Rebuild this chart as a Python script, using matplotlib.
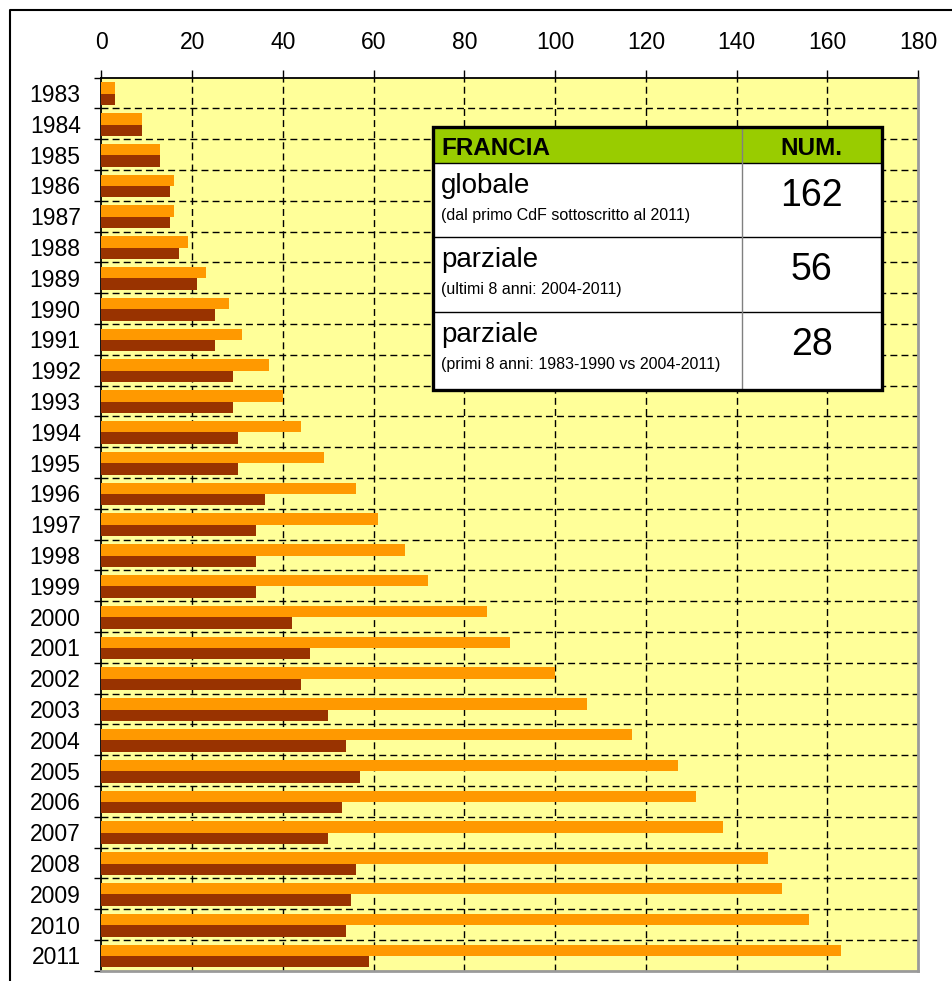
import numpy as np
import matplotlib.pyplot as plt
from matplotlib.patches import Rectangle
from matplotlib.lines import Line2D

plt.rcParams['font.family'] = ['Liberation Sans', 'DejaVu Sans']

# data
years = list(range(1983, 2012))
orange_vals = [3, 9, 13, 16, 16, 19, 23, 28, 31, 37, 40, 44, 49, 56, 61, 67, 72,
               85, 90, 100, 107, 117, 127, 131, 137, 147, 150, 156, 163]
brown_vals = [3, 9, 13, 15, 15, 17, 21, 25, 25, 29, 29, 30, 30, 36, 34, 34, 34,
              42, 46, 44, 50, 54, 57, 53, 50, 56, 55, 54, 59]
x_ticks = [0, 20, 40, 60, 80, 100, 120, 140, 160, 180]

# inset table
table_header = ['FRANCIA', 'NUM.']
table_labels = ['globale', 'parziale', 'parziale']
table_notes = ['(dal primo CdF sottoscritto al 2011)',
               '(ultimi 8 anni: 2004-2011)',
               '(primi 8 anni: 1983-1990 vs 2004-2011)']
table_nums = ['162', '56', '28']

W, H = 953, 981
fig = plt.figure(figsize=(W / 100, H / 100), dpi=100)
fig.patch.set_facecolor('white')

ax = fig.add_axes([101.5 / W, 1 - 970.7 / H, (918 - 101.5) / W, (970.7 - 77.7) / H])
ax.set_facecolor('#FFFF99')

ypos = np.arange(len(years))
ax.barh(ypos - 0.165, orange_vals, height=0.37, color='#FF9900', zorder=3)
ax.barh(ypos + 0.205, brown_vals, height=0.37, color='#993300', zorder=3)

ax.set_xlim(0, 180)
ax.set_ylim(len(years) - 0.5, -0.5)
ax.xaxis.tick_top()
ax.set_xticks(x_ticks)
ax.tick_params(axis='x', which='major', direction='out', length=6, width=1,
               pad=11, labelsize=16.5, colors='black')
ax.set_yticks(ypos)
ax.set_yticklabels([str(y) for y in years])
ax.set_yticks(np.arange(len(years) + 1) - 0.5, minor=True)
ax.tick_params(axis='y', which='major', length=0, pad=15, labelsize=16.5)
ax.tick_params(axis='y', which='minor', direction='out', length=5, width=1)

# dashed grid
for xv in x_ticks[1:-1]:
    ax.axvline(xv, color='black', lw=1, ls=(0, (5, 3)), zorder=1)
for yb in np.arange(1, len(years)) - 0.5:
    ax.axhline(yb, color='black', lw=1, ls=(0, (5, 3)), zorder=1)

for s in ['top', 'left']:
    ax.spines[s].set_color('black')
    ax.spines[s].set_linewidth(1.3)
for s in ['bottom', 'right']:
    ax.spines[s].set_color('#9a9a9a')
    ax.spines[s].set_linewidth(2)

# overlay in pixel coordinates for frame and table
ov = fig.add_axes([0, 0, 1, 1], zorder=10)
ov.set_xlim(0, W)
ov.set_ylim(H, 0)
ov.axis('off')
ov.patch.set_alpha(0)

ov.add_line(Line2D([10, 10, W + 5], [H + 5, 10, 10], color='black', lw=1.5))

tx0, tx1, tcol = 432.7, 881.7, 741.7
row_edges = [126.7, 163.3, 237.3, 312.3, 390]
ov.add_patch(Rectangle((tx0, row_edges[0]), tx1 - tx0, row_edges[-1] - row_edges[0],
                       facecolor='white', edgecolor='none', zorder=1))
ov.add_patch(Rectangle((tx0, row_edges[0]), tx1 - tx0, row_edges[1] - row_edges[0],
                       facecolor='#99CC00', edgecolor='none', zorder=2))
for yr in row_edges[1:-1]:
    ov.add_line(Line2D([tx0, tx1], [yr, yr], color='black', lw=1, zorder=3))
ov.add_line(Line2D([tcol, tcol], [row_edges[0], row_edges[-1]], color='#808080', lw=1, zorder=3))
ov.add_patch(Rectangle((tx0, row_edges[0]), tx1 - tx0, row_edges[-1] - row_edges[0],
                       facecolor='none', edgecolor='black', lw=2.4, zorder=4))

ov.text(441, 155, table_header[0], fontsize=17.5, fontweight='bold', ha='left',
        va='baseline', zorder=5)
ov.text((tcol + tx1) / 2, 155, table_header[1], fontsize=17.5, fontweight='bold',
        ha='center', va='baseline', zorder=5)

label_base = [193, 267, 342]
note_base = [220, 294, 369]
num_base = [206.5, 279.5, 355]
for i in range(len(table_labels)):
    ov.text(441, label_base[i], table_labels[i], fontsize=20, ha='left',
            va='baseline', zorder=5)
    ov.text(441, note_base[i], table_notes[i], fontsize=11.5, ha='left',
            va='baseline', zorder=5)
    ov.text((tcol + tx1) / 2, num_base[i], table_nums[i], fontsize=27, ha='center',
            va='baseline', zorder=5)

fig.savefig('out.png', dpi=100, facecolor='white')
